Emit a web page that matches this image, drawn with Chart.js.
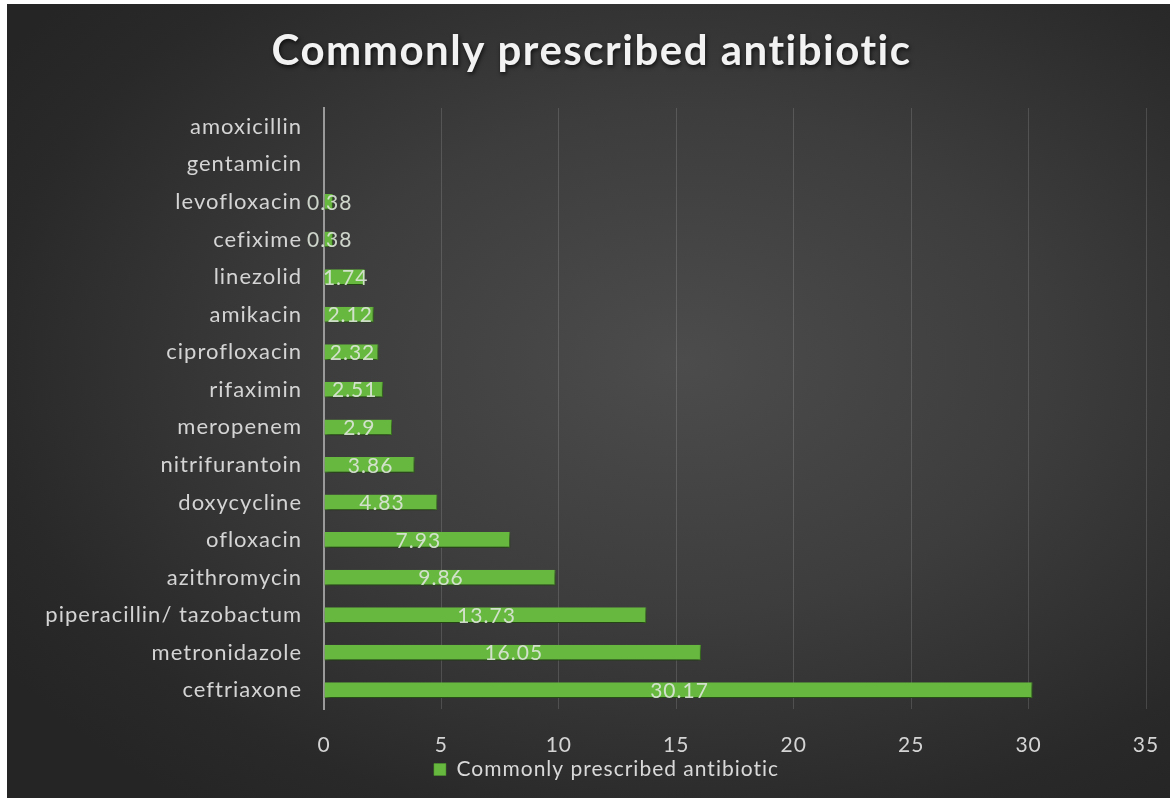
<!DOCTYPE html>
<html>
<head>
<meta charset="utf-8">
<script src="https://cdn.jsdelivr.net/npm/chart.js@4.4.1/dist/chart.umd.min.js"></script>
<style>
  html, body { margin: 0; padding: 0; background: #fff; }
  #wrap {
    position: absolute; left: 7px; top: 4px; width: 1163px; height: 794px;
    background: radial-gradient(ellipse 70% 70% at 58% 45%, #4c4c4c 0%, #3d3d3d 45%, #292929 85%, #252525 100%);
  }
  #chart { display: block; }
</style>
</head>
<body>
<div id="wrap"><canvas id="chart" width="1163" height="794"></canvas></div>
<script>
// === DATA
const drugs = [
  'amoxicillin', 'gentamicin', 'levofloxacin', 'cefixime', 'linezolid',
  'amikacin', 'ciprofloxacin', 'rifaximin', 'meropenem', 'nitrifurantoin',
  'doxycycline', 'ofloxacin', 'azithromycin', 'piperacillin/ tazobactum',
  'metronidazole', 'ceftriaxone'
];
const percents = [
  null, null, 0.38, 0.38, 1.74,
  2.12, 2.32, 2.51, 2.9, 3.86,
  4.83, 7.93, 9.86, 13.73,
  16.05, 30.17
];
const xTicks = [0, 5, 10, 15, 20, 25, 30, 35];
const seriesName = 'Commonly prescribed antibiotic';
const chartTitle = 'Commonly prescribed antibiotic';

const FONT = 'Lato, "Open Sans", sans-serif';

// slightly spaced-out lettering for every label (canvas resets on resize, so set it each pass)
const spacing = {
  id: 'spacing',
  beforeUpdate(chart) { chart.ctx.letterSpacing = '1px'; },
  beforeDraw(chart) { chart.ctx.letterSpacing = '1px'; }
};

// nudge the legend a little right of the canvas centre
const legendShift = {
  id: 'legendShift',
  afterLayout(chart) {
    if (!chart.legend) return;
    chart.legend.left += 18;
    chart.legend.right += 18;
  }
};

// big bold heading with a shadow
const heading = {
  id: 'heading',
  afterDraw(chart) {
    const ctx = chart.ctx;
    ctx.save();
    ctx.letterSpacing = '1.5px';
    ctx.font = 'bold 42px ' + FONT;
    ctx.fillStyle = '#f2f2f2';
    ctx.textAlign = 'center';
    ctx.textBaseline = 'alphabetic';
    ctx.shadowColor = 'rgba(0,0,0,0.7)';
    ctx.shadowBlur = 4;
    ctx.shadowOffsetX = 1;
    ctx.shadowOffsetY = 2;
    ctx.fillText(chartTitle, chart.width / 2 + 3, 61);
    ctx.restore();
  }
};

// soft drop shadow under the bars
const barShadow = {
  id: 'barShadow',
  beforeDatasetsDraw(chart) {
    const ctx = chart.ctx;
    ctx.save();
    ctx.shadowColor = 'rgba(0,0,0,0.65)';
    ctx.shadowBlur = 5;
    ctx.shadowOffsetX = 1;
    ctx.shadowOffsetY = 3;
  },
  afterDatasetsDraw(chart) {
    chart.ctx.restore();
  }
};

// value labels centred in each bar
const valueLabels = {
  id: 'valueLabels',
  afterDatasetsDraw(chart) {
    const ctx = chart.ctx;
    const meta = chart.getDatasetMeta(0);
    ctx.save();
    ctx.letterSpacing = '1px';
    ctx.font = '21px ' + FONT;
    ctx.fillStyle = 'rgba(222,230,218,0.9)';
    ctx.textAlign = 'center';
    ctx.textBaseline = 'middle';
    meta.data.forEach((bar, i) => {
      const v = percents[i];
      if (v == null) return;
      const { x, y, base } = bar.getProps(['x', 'y', 'base'], true);
      ctx.fillText(String(v), (x + base) / 2 + 1, y + 1);
    });
    ctx.restore();
  }
};

function createChart() {
  const ctx = document.getElementById('chart').getContext('2d');
  new Chart(ctx, {
    type: 'bar',
    data: {
      labels: drugs,
      datasets: [{
        label: seriesName,
        data: percents,
        backgroundColor: '#67b83f',
        borderColor: '#4f9a2c',
        borderWidth: { top: 0, bottom: 1, left: 0, right: 1 },
        barPercentage: 0.84,
        categoryPercentage: 0.5
      }]
    },
    options: {
      indexAxis: 'y',
      responsive: false,
      animation: false,
      layout: { padding: { left: 0, right: 0, top: 104, bottom: 8 } },
      plugins: {
        title: { display: false },
        legend: {
          position: 'bottom',
          labels: {
            color: '#d9d9d9',
            font: { family: FONT, size: 21 },
            boxWidth: 12,
            boxHeight: 12,
            padding: 4
          }
        },
        tooltip: { enabled: false }
      },
      scales: {
        x: {
          min: 0,
          max: 35,
          afterBuildTicks: s => { s.ticks = xTicks.map(v => ({ value: v })); },
          grid: { color: 'rgba(255,255,255,0.14)', lineWidth: 1, drawTicks: false },
          border: { display: false },
          ticks: { color: '#d4d4d4', font: { family: FONT, size: 21 }, padding: 24 },
          afterFit: s => { s.height = 46; s.paddingRight = 24; s.paddingLeft = 0; }
        },
        y: {
          grid: { display: false, drawTicks: false },
          border: { display: true, color: '#9a9a9a', width: 2 },
          ticks: { color: '#d4d4d4', font: { family: FONT, size: 22 }, padding: 22, autoSkip: false },
          afterFit: s => { s.width = 317; }
        }
      }
    },
    plugins: [spacing, legendShift, barShadow, valueLabels, heading]
  });
}

window.addEventListener('DOMContentLoaded', createChart);
</script>
</body>
</html>
